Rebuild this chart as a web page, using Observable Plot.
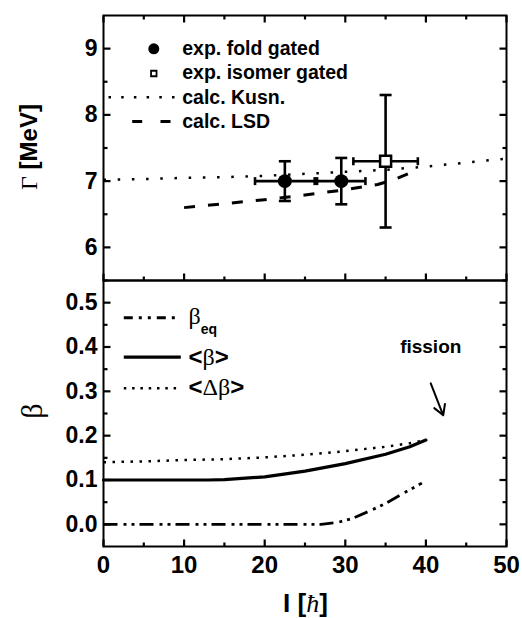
<!DOCTYPE html>
<html><head><meta charset="utf-8">
<script src="https://cdn.jsdelivr.net/npm/d3@7"></script>
<script src="https://cdn.jsdelivr.net/npm/@observablehq/plot@0.6"></script>
<style>
body{margin:0;background:#fff;}
#wrap{position:relative;width:522px;height:618px;background:#fff;overflow:hidden;}
#wrap svg{position:absolute;left:0;overflow:visible;background:transparent;}
</style></head><body><div id="wrap"></div>
<script>
// ---------- data ----------
const spinDomain = [0, 50];
const gammaDomain = [5.5, 9.5];
const betaDomain = [-0.05, 0.55];
const spinTicks = [0, 10, 20, 30, 40, 50];
const spinMinor = [5, 15, 25, 35, 45];
const gammaTicks = [6, 7, 8, 9];
const gammaMinor = [5.5, 6.5, 7.5, 8.5];
const betaTicks = [0, 0.1, 0.2, 0.3, 0.4, 0.5];
const betaMinor = [0.05, 0.15, 0.25, 0.35, 0.45];

// exp. fold gated
const foldSpin = [22.5, 29.5];
const foldGamma = [7.0, 7.0];
const foldSpinErr = [3.7, 3.0];
const foldGammaErr = [0.30, 0.35];
// exp. isomer gated
const isomerSpin = [35.0];
const isomerGamma = [7.3];
const isomerSpinErr = [4.0];
const isomerGammaErr = [1.0];
// calc. Kusn.
const kusnSpin = [0, 5, 10, 15, 20, 25, 30, 35, 40, 45, 50];
const kusnGamma = [7.02, 7.03, 7.05, 7.06, 7.08, 7.11, 7.14, 7.17, 7.22, 7.28, 7.34];
// calc. LSD
const lsdSpin = [10, 15, 20, 25, 30, 34, 36, 39];
const lsdGamma = [6.60, 6.66, 6.72, 6.79, 6.87, 6.95, 7.02, 7.17];

// deformation curves
const meanSpin = [0, 5, 10, 13, 15, 20, 25, 30, 35, 38, 40];
const meanBeta = [0.100, 0.100, 0.100, 0.100, 0.101, 0.107, 0.120, 0.137, 0.158, 0.175, 0.190];
const widthSpin = [0, 5, 10, 15, 20, 25, 30, 35, 38, 40];
const widthBeta = [0.140, 0.142, 0.145, 0.147, 0.151, 0.157, 0.165, 0.175, 0.183, 0.190];
const eqSpin = [0, 10, 20, 27, 29, 31, 33, 35, 37, 39.5];
const eqBeta = [0, 0, 0, 0, 0.004, 0.014, 0.030, 0.047, 0.068, 0.093];

// annotation
const fissionLabel = [{x: 40.6, y: 0.40, text: "fission"}];
const fissionArrow = [{x1: 40.6, y1: 0.318, x2: 42.15, y2: 0.246}];

const topLegendLabels = ["exp. fold gated", "exp. isomer gated", "calc. Kusn.", "calc. LSD"];
const bottomLegendLabels = ["β eq", "<β>", "<Δβ>"];

// ---------- helpers ----------
const sans = "'Liberation Sans', Arial, Helvetica, sans-serif";
const serif = "'Liberation Serif', 'Times New Roman', serif";
const zip2 = (xs, ys) => xs.map((x, i) => ({x, y: ys[i]}));

const fold = foldSpin.map((x, i) => ({x, y: foldGamma[i], ex: foldSpinErr[i], ey: foldGammaErr[i]}));
const isomer = isomerSpin.map((x, i) => ({x, y: isomerGamma[i], ex: isomerSpinErr[i], ey: isomerGammaErr[i]}));
const allPts = fold.concat(isomer);
const vCaps = allPts.flatMap(d => [{x: d.x, y: d.y - d.ey}, {x: d.x, y: d.y + d.ey}]);
const hCaps = allPts.flatMap(d => [{x: d.x - d.ex, y: d.y}, {x: d.x + d.ex, y: d.y}]);

const W = 522, ML = 103, MR = 16;
const FW = W - ML - MR;
const line0 = {r: 0, stroke: "black", strokeLinecap: "butt"};

// inward frame ticks as short links between the frame edge and a point len px inside
function linkTicks(vals, side, len, xd, yd, FH) {
  const kx = (xd[1] - xd[0]) / FW, ky = (yd[1] - yd[0]) / FH;
  const f = {
    bottom: v => ({x1: v, x2: v, y1: yd[0], y2: yd[0] + len * ky}),
    top: v => ({x1: v, x2: v, y1: yd[1], y2: yd[1] - len * ky}),
    left: v => ({y1: v, y2: v, x1: xd[0], x2: xd[0] + len * kx}),
    right: v => ({y1: v, y2: v, x1: xd[1], x2: xd[1] - len * kx})
  }[side];
  return Plot.link(vals.map(f), {x1: "x1", y1: "y1", x2: "x2", y2: "y2", stroke: "black", strokeWidth: 2.2, strokeLinecap: "butt"});
}
function allTicks(sides, xMaj, xMin, yMaj, yMin, xd, yd, FH) {
  const m = [];
  for (const s of sides) {
    const [maj, min] = (s === "bottom" || s === "top") ? [xMaj, xMin] : [yMaj, yMin];
    m.push(linkTicks(maj, s, 7, xd, yd, FH), linkTicks(min, s, 4, xd, yd, FH));
  }
  return m;
}
const at = (dx, dy) => ({frameAnchor: "top-left", dx, dy});
const seg = (dx, dy, len, style) => Plot.vector([0], {...at(dx, dy), rotate: 90, length: len, anchor: "start", ...line0, ...style});

function richify(svg, plain, parts) {
  d3.select(svg).selectAll("text").filter(function () { return this.textContent === plain; }).each(function () {
    const t = d3.select(this);
    t.selectAll("*").remove();
    t.text(null);
    parts.forEach(p => {
      const s = t.append("tspan").text(p.t);
      if (p.font) s.attr("font-family", p.font);
      if (p.weight) s.attr("font-weight", p.weight);
      if (p.size) s.attr("font-size", p.size);
      if (p.style) s.attr("font-style", p.style);
      if (p.dy != null) s.attr("dy", p.dy);
    });
  });
}

const svgStyle = {fontFamily: sans, background: "transparent", overflow: "visible"};

// ---------- top panel ----------
const TH = 265;
const dotted = {strokeDasharray: "2.5,11.7", strokeWidth: 2.5, strokeLinecap: "butt"};
const dashed = {strokeDasharray: "11,13", strokeWidth: 3, strokeLinecap: "butt"};

const topPlot = Plot.plot({
  width: W, height: 280, marginLeft: ML, marginRight: MR, marginTop: 15, marginBottom: 0,
  style: svgStyle,
  x: {domain: spinDomain, axis: null},
  y: {domain: gammaDomain},
  marks: [
    Plot.axisY(gammaTicks, {anchor: "left", tickSize: 0, tickPadding: 6, fontSize: 23, fontWeight: "bold", label: null, fill: "black", tickFormat: d => String(d)}),
    Plot.line(zip2(kusnSpin, kusnGamma), {x: "x", y: "y", stroke: "black", ...dotted}),
    Plot.line(zip2(lsdSpin, lsdGamma), {x: "x", y: "y", stroke: "black", ...dashed}),
    Plot.ruleX(allPts, {x: "x", y1: d => d.y - d.ey, y2: d => d.y + d.ey, stroke: "black", strokeWidth: 2.6}),
    Plot.ruleY(allPts, {y: "y", x1: d => d.x - d.ex, x2: d => d.x + d.ex, stroke: "black", strokeWidth: 2.6}),
    Plot.vector(vCaps, {x: "x", y: "y", rotate: 90, length: 12, anchor: "middle", strokeWidth: 2.6, ...line0}),
    Plot.vector(hCaps, {x: "x", y: "y", rotate: 0, length: 8, anchor: "middle", strokeWidth: 2.6, ...line0}),
    Plot.dot(fold, {x: "x", y: "y", r: 7, fill: "black"}),
    Plot.dot(isomer, {x: "x", y: "y", symbol: "square", r: 6.2, fill: "white", stroke: "black", strokeWidth: 2.5}),
    // legend
    Plot.dot([0], {...at(50.3, 33.3), r: 5.5, fill: "black"}),
    Plot.dot([0], {...at(50.3, 58), symbol: "square", r: 3.1, fill: "white", stroke: "black", strokeWidth: 1.8}),
    seg(5, 81.7, 69, {strokeDasharray: "2.5,10.2", strokeWidth: 2.5}),
    seg(28.7, 106, 42, {strokeDasharray: "10,18.3", strokeWidth: 3}),
    ...topLegendLabels.map((t, i) => Plot.text([t], {...at(78.7, 33.3 + i * 24.3), text: d => d, textAnchor: "start", lineAnchor: "middle", fontSize: 19.5, fontWeight: "bold", fill: "black"})),
    // axis title
    Plot.text(["Γ [MeV]"], {frameAnchor: "left", dx: -74.5, dy: -1, rotate: -90, text: d => d, fontSize: 24, fontWeight: "bold", textAnchor: "middle", lineAnchor: "middle", fill: "black"}),
    // inward ticks on all four sides + frame
    ...allTicks(["bottom", "top", "left", "right"], spinTicks, spinMinor, gammaTicks, gammaMinor, spinDomain, gammaDomain, TH),
    Plot.frame({stroke: "black", strokeWidth: 2})
  ]
});

// ---------- bottom panel ----------
const BH = 266;
const bottomPlot = Plot.plot({
  width: W, height: 338, marginLeft: ML, marginRight: MR, marginTop: 0, marginBottom: 72,
  style: svgStyle,
  x: {domain: spinDomain},
  y: {domain: betaDomain},
  marks: [
    Plot.axisX(spinTicks, {anchor: "bottom", tickSize: 0, tickPadding: 9, fontSize: 24, fontWeight: "bold", label: null, fill: "black", tickFormat: d => String(d)}),
    Plot.axisY(betaTicks, {anchor: "left", tickSize: 0, tickPadding: 6, fontSize: 23, fontWeight: "bold", label: null, tickFormat: d3.format(".1f"), fill: "black"}),
    Plot.line(zip2(eqSpin, eqBeta), {x: "x", y: "y", stroke: "black", strokeWidth: 2.8, strokeDasharray: "14,6,3,5,3,5", strokeLinecap: "butt"}),
    Plot.line(zip2(widthSpin, widthBeta), {x: "x", y: "y", stroke: "black", strokeWidth: 2.5, strokeDasharray: "2.5,6.5", strokeLinecap: "butt"}),
    Plot.line(zip2(meanSpin, meanBeta), {x: "x", y: "y", stroke: "black", strokeWidth: 3.2}),
    Plot.text(fissionLabel, {x: "x", y: "y", text: "text", fontSize: 19, fontWeight: "bold", fill: "black"}),
    Plot.arrow(fissionArrow, {x1: "x1", y1: "y1", x2: "x2", y2: "y2", stroke: "black", strokeWidth: 2, headLength: 9}),
    // legend
    seg(20.3, 37.3, 55, {strokeDasharray: "9,6,3,6,3,6", strokeWidth: 3}),
    seg(20.3, 76.7, 57, {strokeWidth: 3.2}),
    seg(20.3, 107.7, 57, {strokeDasharray: "2.5,5.8", strokeWidth: 2.5}),
    ...bottomLegendLabels.map((t, i) => Plot.text([t], {...at(85, [36, 76.7, 106.7][i]), text: d => d, textAnchor: "start", lineAnchor: "middle", fontSize: 24, fontWeight: "bold", fill: "black"})),
    // axis titles
    Plot.text(["β"], {frameAnchor: "left", dx: -71.3, dy: -2.3, rotate: -90, text: d => d, fontSize: 30, fontFamily: serif, textAnchor: "middle", lineAnchor: "middle", fill: "black"}),
    Plot.text(["I [ħ]"], {frameAnchor: "bottom", dx: 0.5, dy: 57, text: d => d, fontSize: 26, fontWeight: "bold", textAnchor: "middle", lineAnchor: "middle", fill: "black"}),
    // inward ticks + frame
    ...allTicks(["bottom", "left", "right"], spinTicks, spinMinor, betaTicks, betaMinor, spinDomain, betaDomain, BH),
    Plot.frame({stroke: "black", strokeWidth: 2})
  ]
});

topPlot.style.top = "0px";
bottomPlot.style.top = "280px";

const wrap = document.getElementById("wrap");
wrap.appendChild(topPlot);
wrap.appendChild(bottomPlot);

richify(topPlot, "Γ [MeV]", [{t: "Γ", font: serif, weight: "normal"}, {t: " [MeV]", font: sans, weight: "bold"}]);
richify(bottomPlot, "I [ħ]", [{t: "I [", font: sans, weight: "bold"}, {t: "ħ", font: serif, weight: "normal", style: "italic"}, {t: "]", font: sans, weight: "bold"}]);
richify(bottomPlot, "β eq", [{t: "β", font: serif, weight: "normal"}, {t: "eq", font: sans, weight: "bold", size: 14, dy: 10}]);
richify(bottomPlot, "<β>", [{t: "<", font: sans, weight: "bold"}, {t: "β", font: serif, weight: "normal"}, {t: ">", font: sans, weight: "bold"}]);
richify(bottomPlot, "<Δβ>", [{t: "<", font: sans, weight: "bold"}, {t: "Δβ", font: serif, weight: "normal"}, {t: ">", font: sans, weight: "bold"}]);
</script></body></html>
